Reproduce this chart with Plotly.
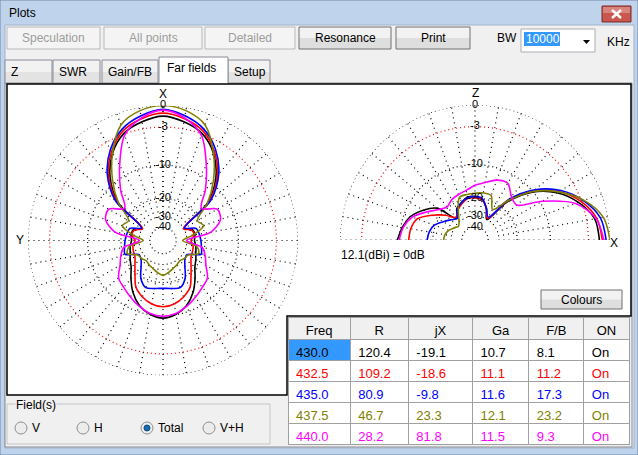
import numpy as np
import plotly.graph_objects as go

W, H = 638, 455
FONT = "Liberation Sans"

# table of the sweep
freq = ["430.0", "432.5", "435.0", "437.5", "440.0"]
res_r = ["120.4", "109.2", "80.9", "46.7", "28.2"]
res_jx = ["-19.1", "-18.6", "-9.8", "23.3", "81.8"]
gain_ga = ["10.7", "11.1", "11.6", "12.1", "11.5"]
f_b = ["8.1", "11.2", "17.3", "23.2", "9.3"]
state_on = ["On", "On", "On", "On", "On"]
table_header = ["Freq", "R", "jX", "Ga", "F/B", "ON"]
colours = ["#000000", "#ff0000", "#0000ff", "#808000", "#ff00ff"]

# far field cuts, dB relative to 12.1 dBi, every 10 deg from 0 to 180
angles = list(range(0, 190, 10))

# azimuth (X forward, pattern symmetric left/right)
az_430 = [-1.4, -1.95, -2.9, -5.0, -8.5, -14.5, -29.5, -25.0, -24.5, -25.0,
          -24.0, -23.2, -21.8, -20.2, -17.1, -13.9, -11.5, -10.1, -9.5]
az_432 = [-1.0, -1.5, -2.5, -4.7, -8.0, -14.0, -30.0, -25.5, -25.0, -27.0,
          -25.5, -25.0, -24.5, -22.4, -19.4, -15.7, -13.9, -12.7, -12.2]
az_435 = [-0.5, -1.1, -2.2, -4.3, -7.6, -13.3, -29.0, -23.0, -22.3, -21.8,
          -21.3, -20.7, -27.0, -26.6, -23.6, -19.2, -17.0, -17.5, -17.8]
az_437 = [0.0, -0.4, -1.6, -5.0, -9.3, -14.5, -21.0, -19.5, -26.0, -33.0,
          -23.5, -21.8, -26.4, -27.0, -28.1, -27.0, -26.0, -24.5, -23.2]
az_440 = [-0.6, -1.4, -3.2, -7.6, -12.3, -17.0, -13.2, -13.6, -17.5, -30.0,
          -21.0, -18.9, -17.2, -14.5, -13.6, -12.5, -11.3, -10.3, -9.9]

# elevation (X at 0 deg, Z at 90 deg)
el_430 = [-1.4, -1.8, -3.5, -6.1, -10.2, -17.3, -30.0, -24.0, -20.5, -19.5,
          -19.5, -21.0, -22.5, -27.0, -17.2, -14.0, -11.6, -10.4, -9.5]
el_432 = [-1.0, -1.5, -3.1, -5.7, -9.8, -16.5, -29.0, -24.0, -20.5, -20.0,
          -20.0, -21.5, -23.5, -26.0, -21.5, -17.2, -13.5, -12.5, -12.2]
el_435 = [-0.5, -1.0, -2.7, -5.3, -9.4, -16.0, -28.0, -24.0, -20.0, -19.5,
          -19.8, -21.0, -23.0, -27.0, -25.0, -22.4, -19.5, -18.3, -17.8]
el_437 = [0.0, -0.6, -2.6, -5.8, -10.0, -16.5, -23.0, -18.0, -17.8, -18.2,
          -18.4, -18.7, -24.0, -29.0, -31.5, -29.5, -27.0, -25.5, -25.0]
el_440 = [-0.8, -1.6, -4.0, -9.5, -15.6, -14.9, -12.4, -12.9, -14.4, -15.5,
          -16.9, -17.6, -18.3, -19.5, -18.0, -15.1, -12.1, -10.6, -9.9]

az_cuts = [az_430, az_432, az_435, az_437, az_440]
el_cuts = [el_430, el_432, el_435, el_437, el_440]

ring_db = [0, -10, -20, -40]
red_ring_db = -3
spoke_from_db = -30
label_db = [0, -3, -10, -20, -30, -40]
label_txt = ["0", "-3", "-10", "-20", "-30", "-40"]


def arrl(db):
    # ARRL log scale: radius shrinks by 0.89 every 2 dB
    return 0.89 ** (-np.asarray(db, dtype=float) / 2)


def X(px):
    return px / W


def Y(py):
    return 1 - py / H


shapes = []
annotations = []


def rect(x0, y0, x1, y1, fill, line=None, lw=1):
    shapes.append(dict(type="rect", xref="paper", yref="paper",
                       x0=X(x0), x1=X(x1), y0=Y(y1), y1=Y(y0),
                       fillcolor=fill, layer="below",
                       line=dict(color=line, width=lw) if line else dict(width=0)))


def seg(x0, y0, x1, y1, color, lw=1):
    shapes.append(dict(type="line", xref="paper", yref="paper",
                       x0=X(x0), x1=X(x1), y0=Y(y0), y1=Y(y1),
                       line=dict(color=color, width=lw), layer="below"))


def label(x, y, text, color="black", size=12, anchor="left", bg=None):
    annotations.append(dict(x=X(x), y=Y(y), xref="paper", yref="paper", text=text,
                            showarrow=False, xanchor=anchor, yanchor="middle",
                            bgcolor=bg, borderpad=0,
                            font=dict(family=FONT, size=size, color=color)))


def button(x0, y0, x1, y1, text, enabled=True):
    if enabled:
        rect(x0, y0, x1, (y0 + y1) / 2, "#f2f2f2")
        rect(x0, (y0 + y1) / 2, x1, y1, "#dedede")
        rect(x0, y0, x1, y1, "rgba(0,0,0,0)", "#707070")
    else:
        rect(x0, y0, x1, y1, "#f4f4f4", "#b5b9bc")
    label((x0 + x1) / 2, (y0 + y1) / 2, text,
          color="black" if enabled else "#9c9c9c", anchor="center")


# window frame and title bar
rect(0, 0, W, H, "#bfd4ec", "#6f88a8")
label(8, 13, "Plots")
rect(602, 6, 631, 22, "#c9574d", "#7a2b27")
rect(603, 7, 630, 13, "#d9857d")
seg(612, 10, 621, 18, "white", 2.5)
seg(612, 18, 621, 10, "white", 2.5)
rect(5, 25, 634, 448, "#f0f0f0", "#9fb2c9")

# top buttons
button(7, 27, 100, 49, "Speculation", False)
button(104, 27, 202, 49, "All points", False)
button(205, 27, 295, 49, "Detailed", False)
button(299, 27, 391, 49, "Resonance")
button(396, 27, 470, 49, "Print")
label(496, 38, "BW")
rect(521, 29, 595, 52, "white", "#abadb3")
rect(524, 32, 560, 46, "#3399ff")
label(525, 39, "10000", color="white")
shapes.append(dict(type="path", xref="paper", yref="paper", layer="below",
                   path=f"M {X(583)},{Y(40)} L {X(590)},{Y(40)} L {X(586.5)},{Y(44)} Z",
                   fillcolor="black", line=dict(width=0)))
label(606, 42, "KHz")

# tab strip and page
rect(5, 83, 632, 447, "#f0f0f0", "#898c95")
for x0, x1, text in [(5, 52, "Z"), (53, 100, "SWR"), (102, 158, "Gain/FB"), (228, 270, "Setup")]:
    rect(x0, 60, x1, (60 + 84) / 2, "#f2f2f2")
    rect(x0, (60 + 84) / 2, x1, 83, "#e3e3e3")
    rect(x0, 60, x1, 83, "rgba(0,0,0,0)", "#898c95")
    label(x0 + 5, 72, text)
rect(159, 57, 228, 84, "white")
seg(159, 57, 228, 57, "#898c95")
seg(159, 57, 159, 83, "#898c95")
seg(228, 57, 228, 83, "#898c95")
label(166, 68, "Far fields")

# white plotting area (L shaped, the table sits in the corner)
shapes.append(dict(type="path", xref="paper", yref="paper", layer="below",
                   path=(f"M {X(7)},{Y(84)} L {X(631)},{Y(84)} L {X(631)},{Y(316)} "
                         f"L {X(287)},{Y(316)} L {X(287)},{Y(395)} L {X(7)},{Y(395)} Z"),
                   fillcolor="white", line=dict(color="black", width=1.5)))
button(541, 290, 622, 309, "Colours")

# field selection group
rect(7, 404, 270, 444, "rgba(0,0,0,0)", "#c5c5c5")
label(15, 405, "Field(s)", bg="#f0f0f0")
for cx, text in [(21, "V"), (83, "H"), (147, "Total"), (209, "V+H")]:
    shapes.append(dict(type="circle", xref="paper", yref="paper", layer="below",
                       x0=X(cx - 6), x1=X(cx + 6), y0=Y(428 + 6), y1=Y(428 - 6),
                       fillcolor="#ececec", line=dict(color="#8e8f8f", width=1)))
    label(cx + 10, 428, text)
shapes.append(dict(type="circle", xref="paper", yref="paper", layer="below",
                   x0=X(147 - 3), x1=X(147 + 3), y0=Y(428 + 3), y1=Y(428 - 3),
                   fillcolor="#1c6bb0", line=dict(color="#0d4f85", width=1)))

# axis letters and scale note
label(163, 94, "X", anchor="center", size=12)
label(20, 240, "Y", anchor="center", size=12)
label(475, 93, "Z", anchor="center", size=12)
label(614, 243, "X", anchor="center", size=12)
label(340, 255, "12.1(dBi) = 0dB")

fig = go.Figure()
DOTS = "1px,3px"


def grid(subplot, theta_max):
    ring_t = list(np.arange(0, theta_max + 1, 1.0))
    rr, tt = [], []
    for db in ring_db:
        rr += [float(arrl(db))] * len(ring_t) + [None]
        tt += ring_t + [None]
    fig.add_trace(go.Scatterpolar(r=rr, theta=tt, mode="lines", subplot=subplot,
                                  line=dict(color="black", width=1.2, dash=DOTS),
                                  hoverinfo="skip"))
    fig.add_trace(go.Scatterpolar(r=[float(arrl(red_ring_db))] * len(ring_t), theta=ring_t,
                                  mode="lines", subplot=subplot, hoverinfo="skip",
                                  line=dict(color="red", width=1.2, dash=DOTS)))
    sr, st = [], []
    for a in range(0, int(theta_max) + 1, 10):
        sr += [float(arrl(spoke_from_db)), 1.0, None]
        st += [a, a, None]
    fig.add_trace(go.Scatterpolar(r=sr, theta=st, mode="lines", subplot=subplot,
                                  line=dict(color="black", width=1.2, dash="1px,4px"),
                                  hoverinfo="skip"))


grid("polar", 360)
grid("polar2", 180)

full_theta = list(range(0, 370, 10))
for vals, c in zip(az_cuts, colours):
    full = vals + vals[-2::-1]
    fig.add_trace(go.Scatterpolar(r=arrl(full), theta=full_theta, mode="lines",
                                  subplot="polar", hoverinfo="skip",
                                  line=dict(color=c, width=1.6, shape="spline", smoothing=0.9)))
for vals, c in zip(el_cuts, colours):
    fig.add_trace(go.Scatterpolar(r=arrl(vals), theta=angles, mode="lines",
                                  subplot="polar2", hoverinfo="skip",
                                  line=dict(color=c, width=1.6, shape="spline", smoothing=0.9)))

for subplot, th in [("polar", 0), ("polar2", 90)]:
    fig.add_trace(go.Scatterpolar(r=arrl(label_db), theta=[th] * len(label_db), mode="text",
                                  text=label_txt, subplot=subplot, cliponaxis=False,
                                  textfont=dict(family=FONT, size=11, color="black"),
                                  hoverinfo="skip"))

cell_fill = [["#3399ff", "white", "white", "white", "white"]] + [["white"] * 5] * 5
fig.add_trace(go.Table(
    domain=dict(x=[X(288), X(629)], y=[Y(445), Y(317)]),
    columnwidth=[62, 58, 64, 56, 55, 45],
    header=dict(values=table_header, fill_color="#f0f0f0", line_color="#a0a0a0",
                align="center", height=22,
                font=dict(family=FONT, size=13, color="black")),
    cells=dict(values=[freq, res_r, res_jx, gain_ga, f_b, state_on],
               fill_color=cell_fill, line_color="#a0a0a0", align="left", height=21,
               font=dict(family=FONT, size=13, color=[colours] * 6)),
))

hidden_radial = dict(range=[0, 1], visible=False)
plain_angular = dict(showgrid=False, showline=False, showticklabels=False, ticks="")
fig.update_layout(
    width=W, height=H,
    margin=dict(l=0, r=0, t=0, b=0, pad=0),
    paper_bgcolor="#bfd4ec",
    showlegend=False,
    shapes=shapes,
    annotations=annotations,
    polar=dict(domain=dict(x=[X(28), X(298)], y=[Y(375.5), Y(105.5)]),
               bgcolor="rgba(0,0,0,0)", radialaxis=hidden_radial,
               angularaxis=dict(rotation=90, direction="counterclockwise", **plain_angular)),
    polar2=dict(domain=dict(x=[X(340), X(610)], y=[Y(240), Y(105)]), sector=[0, 180],
                bgcolor="rgba(0,0,0,0)", radialaxis=hidden_radial,
                angularaxis=dict(rotation=0, direction="counterclockwise", **plain_angular)),
)

# the page body has a default margin; drop it so the window fills the view
fig.write_html("out.html", config={"displayModeBar": False},
               post_script="document.body.style.margin='0';")
